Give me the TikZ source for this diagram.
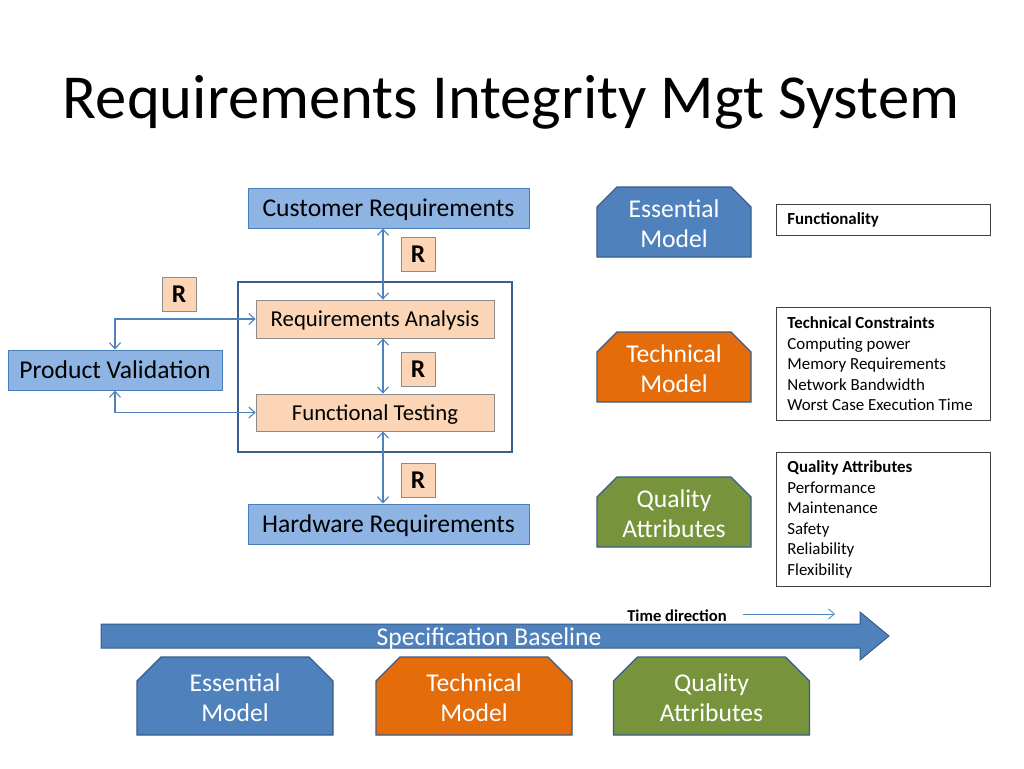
\documentclass[tikz,border=0pt]{standalone}
\usepackage{fontspec}
\setmainfont{Carlito}
\usetikzlibrary{arrows.meta,positioning,shapes.misc}

\definecolor{boxblue}{HTML}{8EB4E3}
\definecolor{boxline}{HTML}{4A7EBB}
\definecolor{peach}{HTML}{FBD5B5}
\definecolor{peachline}{HTML}{8C8C8C}
\definecolor{essblue}{HTML}{4F81BD}
\definecolor{techorange}{HTML}{E46C0A}
\definecolor{qualgreen}{HTML}{77933C}
\definecolor{shapeline}{HTML}{385D8A}
\definecolor{framecol}{HTML}{3B5E8C}

\newcommand{\bigfont}{\fontsize{25.6}{30}\selectfont}
\newcommand{\midfont}{\fontsize{22.75}{27}\selectfont}
\newcommand{\smallfont}{\fontsize{16.9}{20.5}\selectfont}

\tikzset{
  reqbox/.style={draw=boxline, fill=boxblue, line width=1pt, minimum height=40, inner sep=0,
    text height=17.5, text depth=0, font=\bigfont},
  actbox/.style={draw=peachline, fill=peach, line width=0.8pt, minimum width=238, inner sep=0,
    text height=15.5, text depth=0, font=\midfont},
  rbox/.style={draw=peachline, fill=peach, line width=0.8pt, minimum size=34, inner sep=0, font=\bigfont\bfseries},
  model/.style={chamfered rectangle, chamfered rectangle corners={north west,north east},
    chamfered rectangle sep=10pt, draw=shapeline, line width=1.3pt, text=white, align=center,
    inner sep=0, text height=50, text depth=-3, font=\bigfont},
  infobox/.style={draw=black!75, fill=white, anchor=north west, minimum width=214, text width=192,
    align=flush left, inner xsep=11, inner ysep=0, line width=0.8pt, font=\smallfont},
  link/.style={draw=essblue, line width=1.1pt,
    {Straight Barb[length=6pt,width=11pt]}-{Straight Barb[length=6pt,width=11pt]}},
}

\begin{document}
\begin{tikzpicture}[x=1pt,y=-1pt]
  \useasboundingbox[fill=white] (0,0) rectangle (1024,768);

  % title
  \node[anchor=base, font=\fontsize{62.6}{70}\selectfont] (title) at (511,118) {Requirements Integrity Mgt System};

  % left part
  \node[draw=framecol, line width=2.5pt, minimum width=274, minimum height=170] (frame) at (375,367) {};
  \node[reqbox, minimum width=281] (cr) at (388.5,208) {Customer Requirements};
  \node[reqbox, minimum width=281] (hr) at (388.5,524) {Hardware Requirements};
  \node[reqbox, minimum width=214] (pv) at (115,370) {Product Validation};
  \node[actbox, minimum height=38] (ra) at (375,319) {Requirements Analysis};
  \node[actbox, minimum height=37] (ft) at (375,412.5) {Functional Testing};

  \node[rbox] (r1) at (418,254) {R};
  \node[rbox] (r2) at (179,294) {R};
  \node[rbox] (r3) at (418,369) {R};
  \node[rbox] (r4) at (418,480) {R};

  \coordinate (axis) at (383,0);
  \draw[link] (axis |- cr.south) -- (axis |- ra.north);
  \draw[link] (axis |- ra.south) -- (axis |- ft.north);
  \draw[link] (axis |- ft.south) -- (axis |- hr.north);
  \draw[link] (pv.north) |- (ra.west);
  \draw[link] (pv.south) |- (ft.west);

  % models on the right
  \node[model, fill=essblue, minimum width=154, minimum height=70] (em) at (674,222) {Essential\\Model};
  \node[model, fill=techorange, minimum width=154, minimum height=70] (tm) at (674,367) {Technical\\Model};
  \node[model, fill=qualgreen, minimum width=154, minimum height=70] (qa) at (674,512) {Quality\\Attributes};

  \node[infobox, minimum height=31] (func) at (776,204) {\textbf{Functionality}};
  \node[infobox, minimum height=113] (tech) at (776,307) {\textbf{Technical Constraints}\\Computing power\\Memory Requirements\\Network Bandwidth\\Worst Case Execution Time};
  \node[infobox, minimum height=134] (qual) at (776,452) {\textbf{Quality Attributes}\\Performance\\Maintenance\\Safety\\Reliability\\Flexibility};

  % baseline arrow
  \node[font=\fontsize{16.6}{19}\selectfont\bfseries] (timelbl) at (677,616) {Time direction};
  \coordinate (tstart) at (743,614);
  \coordinate (tend) at (835,614);
  \draw[draw=essblue, line width=0.8pt, -{Straight Barb[length=6pt,width=10pt]}] (tstart) -- (tend);

  \filldraw[fill=essblue, draw=shapeline, line width=1pt]
    (101,624) -- (860,624) -- (860,612) -- (889,636) -- (860,660) -- (860,648) -- (101,648) -- cycle;
  \node[text=white, font=\bigfont] (spec) at (489,639) {Specification Baseline};

  \node[model, chamfered rectangle sep=12pt, fill=essblue, minimum width=196, minimum height=78] (em2) at (235,696) {Essential\\Model};
  \node[model, chamfered rectangle sep=12pt, fill=techorange, minimum width=196, minimum height=78] (tm2) at (474,696) {Technical\\Model};
  \node[model, chamfered rectangle sep=12pt, fill=qualgreen, minimum width=196, minimum height=78] (qa2) at (711.5,696) {Quality\\Attributes};
\end{tikzpicture}
\end{document}
